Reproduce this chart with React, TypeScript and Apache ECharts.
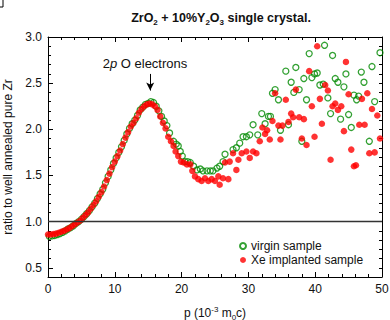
import React, { useEffect, useRef } from "react";
import * as echarts from "echarts";

const virginP = [
  0.2, 0.6, 1.0, 1.4, 1.8, 2.2, 2.6, 3.0, 3.4, 3.8, 4.2, 4.6, 5.0, 5.4, 5.8, 6.2, 6.6, 7.0, 7.4, 7.8,
  8.2, 8.6, 9.0, 9.4, 9.8, 10.2, 10.6, 11.0, 11.4, 11.8, 12.2, 12.6, 13.0, 13.4, 13.8, 14.2, 14.6, 15.0,
  15.4, 15.8, 16.2, 16.6, 17.0, 17.4, 17.8, 18.2, 18.8, 19.2, 19.5, 19.8, 20.1, 20.5, 20.9, 21.3, 21.8,
  22.3, 22.8, 23.2, 23.8, 24.3, 24.7, 25.3, 25.7, 26.2, 26.5, 27.7, 28.2, 28.7, 29.2, 29.7, 30.2, 30.7,
  31.4, 32.0, 32.5, 33.0, 33.3, 33.6, 34.0, 34.5, 34.8, 35.6, 36.0, 36.4, 36.8, 37.1, 37.6, 38.0, 38.3,
  38.7, 39.1, 39.5, 39.9, 40.3, 40.7, 41.2, 41.4, 41.9, 42.3, 42.6, 43.0, 43.4, 43.8, 44.3, 44.6, 45.0,
  45.4, 45.8, 46.2, 46.5, 46.9, 47.3, 48.1, 48.5, 48.9, 49.7,
];
const virginR = [
  0.84, 0.845, 0.85, 0.86, 0.87, 0.885, 0.9, 0.92, 0.935, 0.955, 0.98, 1.0, 1.025, 1.055, 1.085, 1.12,
  1.16, 1.2, 1.25, 1.3, 1.35, 1.42, 1.49, 1.56, 1.63, 1.69, 1.75, 1.81, 1.88, 1.95, 2.01, 2.06, 2.1,
  2.15, 2.21, 2.24, 2.27, 2.28, 2.3, 2.29, 2.25, 2.2, 2.14, 2.09, 2.04, 1.96, 1.87, 1.84, 1.82, 1.76,
  1.71, 1.65, 1.65, 1.64, 1.6, 1.56, 1.57, 1.55, 1.55, 1.55, 1.55, 1.58, 1.6, 1.65, 1.73, 1.78, 1.8,
  1.85, 1.92, 1.92, 1.94, 2.05, 1.94, 2.17, 2.06, 2.14, 2.14, 2.39, 2.43, 2.32, 1.99, 2.63, 2.05, 2.51,
  2.4, 2.67, 2.43, 1.87, 2.55, 2.32, 2.82, 2.56, 2.6, 2.61, 2.48, 2.49, 2.91, 2.34, 2.17, 2.8, 2.55,
  2.51, 2.11, 2.46, 2.6, 2.16, 2.02, 2.37, 2.32, 2.36, 2.62, 2.51, 1.87, 2.68, 2.3, 2.83,
];

const xeP = [
  0.0, 0.4, 0.8, 1.2, 1.6, 2.0, 2.4, 2.8, 3.2, 3.6, 4.0, 4.4, 4.8, 5.2, 5.6, 6.0, 6.4, 6.8, 7.2, 7.6,
  8.0, 8.4, 8.8, 9.2, 9.6, 10.0, 10.4, 10.8, 11.2, 11.6, 12.0, 12.4, 12.8, 13.2, 13.6, 14.0, 14.4, 14.8,
  15.2, 15.6, 16.0, 16.4, 16.8, 17.2, 17.6, 18.0, 18.4, 18.8, 19.1, 19.5, 19.9, 20.3, 20.8, 21.3, 21.6,
  22.0, 22.5, 23.0, 23.5, 24.0, 24.5, 25.0, 25.5, 25.7, 26.2, 26.5, 27.0, 27.2, 27.7, 28.2, 28.5, 29.0,
  29.7, 30.2, 30.7, 31.2, 31.7, 32.1, 32.5, 32.8, 33.2, 33.6, 34.0, 34.5, 34.8, 35.1, 35.6, 36.0, 36.4,
  36.7, 37.1, 37.6, 38.0, 38.3, 38.7, 39.1, 39.5, 39.9, 40.3, 40.7, 41.0, 41.5, 41.9, 42.3, 42.6, 43.0,
  43.4, 43.9, 44.3, 44.6, 45.0, 45.4, 45.8, 46.1, 46.6, 47.0, 47.4, 47.8, 48.1, 48.5, 48.9, 49.3, 49.7,
];
const xeR = [
  0.86, 0.86, 0.865, 0.87, 0.88, 0.89, 0.9, 0.915, 0.93, 0.95, 0.97, 0.99, 1.01, 1.04, 1.07, 1.1, 1.14,
  1.18, 1.22, 1.27, 1.32, 1.38, 1.45, 1.52, 1.59, 1.65, 1.71, 1.77, 1.84, 1.91, 1.97, 2.03, 2.07, 2.12,
  2.18, 2.22, 2.25, 2.27, 2.28, 2.27, 2.25, 2.21, 2.14, 2.07, 2.01, 1.92, 1.87, 1.82, 1.76, 1.71, 1.65,
  1.64, 1.62, 1.62, 1.55, 1.49, 1.46, 1.44, 1.47, 1.44, 1.46, 1.44, 1.49, 1.4, 1.47, 1.64, 1.46, 1.65,
  1.74, 1.56, 1.67, 1.74, 1.76, 1.69, 1.76, 1.74, 1.87, 2.02, 1.95, 1.99, 1.89, 2.09, 2.39, 2.04, 1.89,
  2.04, 2.32, 2.08, 2.17, 2.13, 2.43, 2.13, 1.9, 2.11, 1.83, 2.63, 2.25, 1.92, 2.9, 2.33, 2.06, 2.48,
  2.42, 1.67, 2.25, 2.28, 2.21, 2.25, 1.98, 2.73, 2.38, 1.78, 1.6, 1.61, 2.05, 2.33, 2.05, 2.39, 1.74,
  2.22, 1.75, 2.15, 1.9,
];

const xTicks = { min: 0, max: 50, interval: 10 };
const yRange = { min: 0.4, max: 3.0 };
const yMajor = [0.5, 1.0, 1.5, 2.0, 2.5, 3.0];
const seriesNames = ["virgin sample", "Xe implanted sample"];

const FONT = "Liberation Sans, Arial, sans-serif";

export default function App() {
  const ref = useRef<HTMLDivElement>(null);
  useEffect(() => {
    if (!ref.current) return;
    const chart = echarts.init(ref.current, undefined, { renderer: "svg" });
    const virginData = virginP.map((p, i) => [p, virginR[i]]);
    const xeData = xeP.map((p, i) => [p, xeR[i]]);
    const axisLine = { show: true, lineStyle: { color: "#000", width: 1 } };
    chart.setOption({
      animation: false,
      textStyle: { fontFamily: FONT },
      grid: { left: 48, right: 8, top: 37, bottom: 43, containLabel: false, outerBoundsMode: "none" },
      legend: {
        data: seriesNames,
        orient: "vertical",
        left: 234,
        top: 235,
        itemWidth: 6,
        itemHeight: 6,
        itemGap: 2,
        textStyle: { fontSize: 12, color: "#111", fontFamily: FONT },
      },
      xAxis: [
        {
          type: "value",
          position: "bottom",
          min: xTicks.min,
          max: xTicks.max,
          interval: xTicks.interval,
          axisLine,
          axisTick: { show: true, inside: true, length: 5, lineStyle: { color: "#000" } },
          minorTick: { show: true, splitNumber: 5, length: 3, lineStyle: { color: "#000" } },
          splitLine: { show: false },
          axisLabel: { fontSize: 12, color: "#111", margin: 6, fontFamily: FONT },
          name: "{n|p (10}{sup|-3}{n| m}{sub|0}{n|c)}",
          nameLocation: "middle",
          nameGap: 28,
          nameTextStyle: {
            rich: {
              n: { fontSize: 12, color: "#111", fontFamily: FONT, lineHeight: 16, verticalAlign: "middle" },
              sup: { fontSize: 8, color: "#111", fontFamily: FONT, verticalAlign: "top", lineHeight: 16 },
              sub: { fontSize: 8, color: "#111", fontFamily: FONT, verticalAlign: "bottom", lineHeight: 16 },
            },
          },
        },
        {
          type: "value",
          position: "top",
          min: xTicks.min,
          max: xTicks.max,
          interval: xTicks.interval,
          axisLine,
          axisTick: { show: true, inside: true, length: 5, lineStyle: { color: "#000" } },
          minorTick: { show: true, splitNumber: 5, length: 3, lineStyle: { color: "#000" } },
          splitLine: { show: false },
          axisLabel: { show: false },
        },
      ],
      yAxis: [
        {
          type: "value",
          position: "left",
          min: yRange.min,
          max: yRange.max,
          interval: 0.1,
          axisLine,
          axisTick: { show: true, inside: true, length: 3, lineStyle: { color: "#000" } },
          splitLine: { show: false },
          axisLabel: {
            fontSize: 12,
            color: "#111",
            margin: 6,
            fontFamily: FONT,
            formatter: (v: number) => {
              const r = Math.round(v * 10);
              return r % 5 === 0 ? (r / 10).toFixed(1) : "";
            },
          },
          name: "ratio to well annealed pure Zr",
          nameLocation: "middle",
          nameGap: 27,
          nameTextStyle: { fontSize: 12, color: "#111", fontFamily: FONT },
        },
        {
          type: "value",
          position: "left",
          min: yRange.min,
          max: yRange.max,
          axisLine: { show: false },
          axisTick: { show: true, inside: true, length: 5, customValues: yMajor, lineStyle: { color: "#000" } },
          splitLine: { show: false },
          axisLabel: { show: false, customValues: yMajor },
        },
        {
          type: "value",
          position: "right",
          min: yRange.min,
          max: yRange.max,
          interval: 0.1,
          axisLine,
          axisTick: { show: true, inside: true, length: 3, lineStyle: { color: "#000" } },
          splitLine: { show: false },
          axisLabel: { show: false },
        },
      ],
      series: [
        {
          name: seriesNames[0],
          type: "scatter",
          data: virginData,
          symbol: "circle",
          symbolSize: 6,
          itemStyle: { color: "rgba(255,255,255,0)", borderColor: "#008a00", borderWidth: 1.3 },
          markLine: {
            silent: true,
            symbol: ["none", "none"],
            label: { show: false },
            lineStyle: { color: "#333", width: 1.3, type: "solid" },
            data: [{ yAxis: 1.0 }],
          },
          z: 2,
        },
        {
          name: seriesNames[1],
          type: "scatter",
          data: xeData,
          symbol: "circle",
          symbolSize: 6.5,
          itemStyle: { color: "#ff0000" },
          markLine: {
            silent: true,
            symbol: ["none", "arrow"],
            symbolSize: [6, 8],
            label: { show: false },
            lineStyle: { color: "#000", width: 1, type: "solid" },
            data: [[{ coord: [15.3, 2.6] }, { coord: [15.3, 2.42] }]],
          },
          z: 3,
        },
      ],
      graphic: [
        {
          type: "text",
          x: 221,
          y: 18,
          style: {
            text: "{b|ZrO}{s|2}{b| + 10%Y}{s|2}{b|O}{s|3}{b| single crystal.}",
            align: "center",
            verticalAlign: "middle",
            rich: {
              b: { fontSize: 12.5, fontWeight: "bold", fill: "#111", fontFamily: FONT, lineHeight: 16, verticalAlign: "middle" },
              s: { fontSize: 8, fontWeight: "bold", fill: "#111", fontFamily: FONT, lineHeight: 16, verticalAlign: "bottom" },
            },
          },
        },
        {
          type: "text",
          x: 145,
          y: 63,
          style: {
            text: "{n|2}{i|p}{n| O electrons}",
            align: "center",
            verticalAlign: "middle",
            rich: {
              n: { fontSize: 13, fill: "#111", fontFamily: FONT },
              i: { fontSize: 13, fill: "#111", fontFamily: FONT, fontStyle: "italic" },
            },
          },
        },
        {
          type: "polyline",
          shape: { points: [[0, 7], [3, 7], [3, 0]] },
          style: { stroke: "#000", lineWidth: 1, fill: "none" },
        },
      ],
    });
    return () => chart.dispose();
  }, []);
  return <div ref={ref} style={{ position: "absolute", left: 0, top: 0, width: 390, height: 320 }} />;
}
